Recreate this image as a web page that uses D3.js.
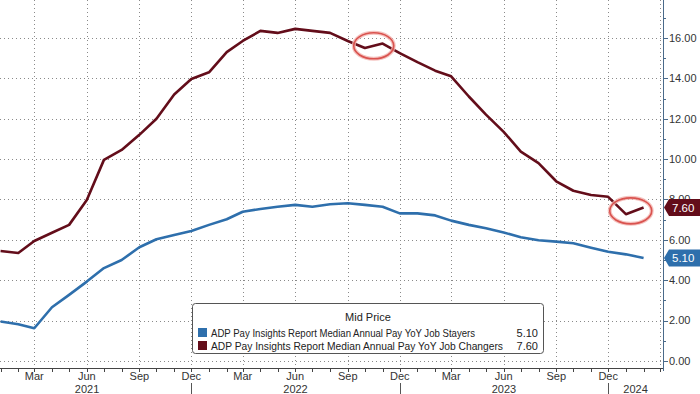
<!DOCTYPE html>
<html><head><meta charset="utf-8">
<script src="https://cdn.jsdelivr.net/npm/d3@7"></script>
<style>
html,body{margin:0;padding:0;background:#fff;}
svg{display:block;font-family:"Liberation Sans",Arial,sans-serif;}
</style></head>
<body><svg id="c" width="700" height="394"></svg>
<script>
const months = ["2021-01","2021-02","2021-03","2021-04","2021-05","2021-06","2021-07","2021-08","2021-09","2021-10","2021-11","2021-12",
"2022-01","2022-02","2022-03","2022-04","2022-05","2022-06","2022-07","2022-08","2022-09","2022-10","2022-11","2022-12",
"2023-01","2023-02","2023-03","2023-04","2023-05","2023-06","2023-07","2023-08","2023-09","2023-10","2023-11","2023-12",
"2024-01","2024-02"];
const stayers = [1.95,1.82,1.62,2.66,3.27,3.93,4.60,5.00,5.63,6.03,6.24,6.44,
6.74,7.02,7.39,7.53,7.64,7.73,7.64,7.76,7.81,7.73,7.64,7.31,
7.31,7.21,6.95,6.74,6.57,6.36,6.13,5.98,5.91,5.83,5.61,5.41,
5.28,5.10];
const changers = [5.45,5.35,5.94,6.35,6.74,7.97,9.96,10.45,11.20,12.00,13.20,13.97,
14.30,15.30,15.85,16.35,16.25,16.45,16.35,16.25,15.85,15.50,15.72,15.25,
14.80,14.38,14.10,13.10,12.20,11.35,10.37,9.80,8.90,8.43,8.22,8.13,
7.27,7.60];
const yTicks = [0,2,4,6,8,10,12,14,16];
const yTickLabels = ["0.00","2.00","4.00","6.00","8.00","10.00","12.00","14.00","16.00"];
const seriesNames = ["ADP Pay Insights Report Median Annual Pay YoY Job Stayers","ADP Pay Insights Report Median Annual Pay YoY Job Changers"];
const lastLabels = ["5.10","7.60"];
const legendTitle = "Mid Price";
const colors = ["#2e6fac","#630d1a"];
const highlights = [["2022-10","2022-11"],["2024-01","2024-02"]];

const parse = d3.timeParse("%Y-%m");
const dates = months.map(parse);
const svg = d3.select("#c");
const W = 700, H = 394;
const plot = {left:0, right:663, top:0, bottom:368};

const x = d3.scaleTime().domain([new Date(2020,11,31), new Date(2024,2,6)]).range([plot.left, plot.right]);
const y = d3.scaleLinear().domain([-0.35, 17.88]).range([plot.bottom, plot.top]);

svg.append("defs").append("clipPath").attr("id","clip").append("rect")
  .attr("x",plot.left).attr("y",plot.top).attr("width",plot.right-plot.left).attr("height",plot.bottom-plot.top);

// grid
const allMonths = d3.timeMonth.range(new Date(2020,11,1), new Date(2024,3,1));
const quarterMonths = allMonths.filter(d => [2,5,8,11].includes(d.getMonth()));
const grid = svg.append("g").attr("stroke","#8a8a8a").attr("stroke-width",1).attr("stroke-dasharray","1,3");
grid.selectAll(".v").data(quarterMonths.filter(d=>x(d)>0 && x(d)<plot.right)).join("line")
  .attr("x1",d=>Math.round(x(d))+0.5).attr("x2",d=>Math.round(x(d))+0.5).attr("y1",plot.top).attr("y2",plot.bottom);
grid.selectAll(".h").data(yTicks).join("line")
  .attr("x1",plot.left).attr("x2",plot.right).attr("y1",d=>Math.round(y(d))+0.5).attr("y2",d=>Math.round(y(d))+0.5);

// lines
const line = d3.line().x((d,i)=>x(dates[i])).y(d=>y(d));
const g = svg.append("g").attr("clip-path","url(#clip)");
[stayers, changers].forEach((s,k)=>{
  g.append("path").datum(s).attr("d",line).attr("fill","none")
   .attr("stroke",colors[k]).attr("stroke-width",2.6).attr("stroke-linejoin","round");
});

// highlight ellipses
highlights.forEach(([a,b],k)=>{
  const ia = months.indexOf(a), ib = months.indexOf(b);
  const cx = (x(dates[ia])+x(dates[ib]))/2 + (k===1?-4:0);
  const cy = y((changers[ia]+changers[ib])/2);
  const rx = k===0?20:21, ry = 13;
  svg.append("ellipse").attr("cx",cx).attr("cy",cy).attr("rx",rx).attr("ry",ry)
    .attr("fill","none").attr("stroke","#f3b4b0").attr("stroke-width",4).attr("opacity",0.8);
  svg.append("ellipse").attr("cx",cx).attr("cy",cy).attr("rx",rx).attr("ry",ry)
    .attr("fill","none").attr("stroke","#d9534f").attr("stroke-width",1.6);
});

// y axis (right)
const ya = svg.append("g");
ya.append("line").attr("x1",plot.right+0.5).attr("x2",plot.right+0.5).attr("y1",0).attr("y2",plot.bottom+3).attr("stroke","#4a6a8a").attr("stroke-width",1);
d3.range(0,18).forEach(v=>{
  const yy = Math.round(y(v))+0.5;
  ya.append("line").attr("x1",plot.right).attr("x2",plot.right+(v%2===0?5:3)).attr("y1",yy).attr("y2",yy).attr("stroke","#4a6a8a");
});
ya.selectAll("text").data(yTicks).join("text")
  .attr("x",plot.right+6).attr("y",d=>y(d)).attr("dy","0.35em")
  .attr("font-size",11).attr("fill","#333").text((d,i)=>yTickLabels[i]);

// end labels
[stayers, changers].forEach((s,k)=>{
  const yy = y(s[s.length-1]);
  const x0 = plot.right+1;
  svg.append("path").attr("d",`M${x0},${yy} L${x0+5},${yy-8.5} L${W},${yy-8.5} L${W},${yy+8.5} L${x0+5},${yy+8.5} Z`)
    .attr("fill",colors[k]);
  svg.append("text").attr("x",x0+8).attr("y",yy).attr("dy","0.36em").attr("font-size",11.5)
    .attr("fill","#fff").text(lastLabels[k]);
});

// x axis
const xa = svg.append("g");
xa.append("line").attr("x1",0).attr("x2",plot.right).attr("y1",plot.bottom+0.5).attr("y2",plot.bottom+0.5).attr("stroke","#444");
allMonths.filter(d=>x(d)>=0 && x(d)<=plot.right).forEach(d=>{
  const xx = Math.round(x(d))+0.5;
  xa.append("line").attr("x1",xx).attr("x2",xx).attr("y1",plot.bottom).attr("y2",plot.bottom+4).attr("stroke","#444");
});
xa.selectAll(".ml").data(quarterMonths.filter(d=>x(d)>5 && x(d)<plot.right-20)).join("text")
  .attr("x",d=>x(d)).attr("y",380).attr("text-anchor","middle").attr("font-size",11).attr("fill","#333")
  .text(d=>d3.timeFormat("%b")(d));
// year separators at December ticks
const decs = quarterMonths.filter(d=>d.getMonth()===11 && x(d)>0 && x(d)<plot.right);
decs.forEach(d=>{
  const xx = Math.round(x(d))+0.5;
  xa.append("line").attr("x1",xx).attr("x2",xx).attr("y1",383).attr("y2",H).attr("stroke","#555");
});
const years = [2021,2022,2023,2024];
years.forEach(yr=>{
  const a = x(new Date(yr-1,11,1)), b = Math.min(x(new Date(yr,11,1)), plot.right);
  xa.append("text").attr("x",(a+b)/2).attr("y",393).attr("text-anchor","middle").attr("font-size",11).attr("fill","#333").text(yr);
});

// legend
const lg = svg.append("g");
lg.append("rect").attr("x",192.5).attr("y",303.5).attr("width",351).attr("height",50).attr("rx",3)
  .attr("fill","#fff").attr("stroke","#555").attr("stroke-width",1);
lg.append("text").attr("x",368).attr("y",321).attr("text-anchor","middle").attr("font-size",11).attr("fill","#222").text(legendTitle);
const nameLen = [264, 292];
seriesNames.forEach((n,k)=>{
  const yy = 333 + k*13;
  lg.append("rect").attr("x",198).attr("y",yy-5).attr("width",9).attr("height",9).attr("fill",colors[k]);
  lg.append("text").attr("x",211).attr("y",yy).attr("dy","0.35em").attr("font-size",10.3).attr("fill","#222")
    .attr("textLength",nameLen[k]).attr("lengthAdjust","spacingAndGlyphs").text(n);
  lg.append("text").attr("x",538).attr("y",yy).attr("dy","0.35em").attr("text-anchor","end").attr("font-size",11).attr("fill","#222").text(lastLabels[k]);
});
</script></body></html>
